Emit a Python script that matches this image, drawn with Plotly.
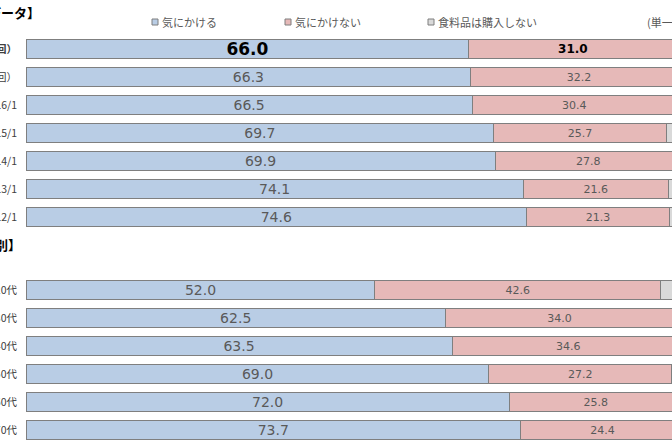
import plotly.graph_objects as go
from plotly.subplots import make_subplots

# ---- data ----
series_names = ["気にかける", "気にかけない", "食料品は購入しない"]
series_colors = ["#b9cde5", "#e6b9b8", "#d9d9d9"]

time_labels = ["2017/1（今回）", "2016/7（前回）", "2016/1", "2015/1", "2014/1", "2013/1", "2012/1"]
time_care = [66.0, 66.3, 66.5, 69.7, 69.9, 74.1, 74.6]
time_nocare = [31.0, 32.2, 30.4, 25.7, 27.8, 21.6, 21.3]
time_nobuy = [3.0, 1.5, 3.1, 4.6, 2.3, 4.3, 4.1]

age_labels = ["20代", "30代", "40代", "50代", "60代", "70代"]
age_care = [52.0, 62.5, 63.5, 69.0, 72.0, 73.7]
age_nocare = [42.6, 34.0, 34.6, 27.2, 25.8, 24.4]
age_nobuy = [5.4, 3.5, 1.9, 3.8, 2.2, 1.9]

section_titles = ["【時系列データ】", "【年代別】"]
unit_note = "(単一回答)"

W, H = 672, 446
ML = 26
PW = W - ML


def px_x(p):
    return (p - ML) / PW


def px_y(p):
    return 1 - p / H


fig = make_subplots(rows=2, cols=1, shared_xaxes=False, vertical_spacing=0.05)

LINE = dict(color="#7f7f7f", width=1)
GRAY = "#595959"


def add_group(labels, care, nocare, nobuy, row, bold_first):
    care_txt = []
    nocare_txt = []
    care_size = []
    nocare_size = []
    care_col = []
    nocare_col = []
    tick_txt = []
    for i in range(len(labels)):
        if bold_first and i == 0:
            care_txt.append(f"<b>{care[i]:.1f}</b>")
            nocare_txt.append(f"<b>{nocare[i]:.1f}</b>")
            care_size.append(17)
            nocare_size.append(12)
            care_col.append("#000000")
            nocare_col.append("#000000")
            tick_txt.append(f"<b>{labels[i]}</b>")
        else:
            care_txt.append(f"{care[i]:.1f}")
            nocare_txt.append(f"{nocare[i]:.1f}")
            care_size.append(14)
            nocare_size.append(11)
            care_col.append(GRAY)
            nocare_col.append(GRAY)
            tick_txt.append(labels[i])
    fig.add_trace(go.Bar(y=labels, x=care, orientation="h", name=series_names[0],
                         marker=dict(color=series_colors[0], line=LINE),
                         text=care_txt, textposition="inside", insidetextanchor="middle",
                         constraintext="none",
                         textfont=dict(size=care_size, color=care_col, family="DejaVu Sans"),
                         showlegend=False), row=row, col=1)
    fig.add_trace(go.Bar(y=labels, x=nocare, orientation="h", name=series_names[1],
                         marker=dict(color=series_colors[1], line=LINE),
                         text=nocare_txt, textposition="inside", insidetextanchor="middle",
                         constraintext="none",
                         textfont=dict(size=nocare_size, color=nocare_col, family="DejaVu Sans"),
                         showlegend=False), row=row, col=1)
    fig.add_trace(go.Bar(y=labels, x=nobuy, orientation="h", name=series_names[2],
                         marker=dict(color=series_colors[2], line=LINE),
                         textposition="none", showlegend=False), row=row, col=1)
    return tick_txt


t1 = add_group(time_labels, time_care, time_nocare, time_nobuy, 1, True)
t2 = add_group(age_labels, age_care, age_nocare, age_nobuy, 2, False)

xr = [0, PW / 6.71]
axis_common = dict(showgrid=False, zeroline=False, showline=False, showticklabels=False,
                   range=xr, domain=[0, 1], fixedrange=True)
fig.update_xaxes(**axis_common)
yfont = dict(size=10.5, color="#404040", family="Noto Sans CJK JP")
fig.update_layout(
    yaxis=dict(domain=[px_y(231), px_y(35)], autorange="reversed", tickmode="array",
               tickvals=time_labels, ticktext=t1, automargin=False, ticks="",
               ticklabelstandoff=8, tickfont=yfont, showgrid=False, zeroline=False,
               fixedrange=True),
    yaxis2=dict(domain=[px_y(444), px_y(276)], autorange="reversed", tickmode="array",
                tickvals=age_labels, ticktext=t2, automargin=False, ticks="",
                ticklabelstandoff=8, tickfont=yfont, showgrid=False, zeroline=False,
                fixedrange=True),
)

fig.update_layout(
    width=W, height=H, barmode="stack", bargap=0.32,
    margin=dict(l=ML, r=0, t=0, b=0),
    plot_bgcolor="white", paper_bgcolor="white",
    font=dict(family="Noto Sans CJK JP"),
    showlegend=False,
)

# section titles
fig.add_annotation(x=px_x(42), y=px_y(13), xref="paper", yref="paper", text=f"<b>{section_titles[0]}</b>",
                   xanchor="right", yanchor="middle", showarrow=False,
                   font=dict(size=13, color="#000000", family="Noto Sans CJK JP"))
fig.add_annotation(x=px_x(23), y=px_y(244), xref="paper", yref="paper", text=f"<b>{section_titles[1]}</b>",
                   xanchor="right", yanchor="middle", showarrow=False,
                   font=dict(size=13, color="#000000", family="Noto Sans CJK JP"))

# custom legend
leg_pos = [152, 285, 428]
for name, col, lx in zip(series_names, series_colors, leg_pos):
    fig.add_shape(type="rect", xref="paper", yref="paper",
                  x0=px_x(lx), x1=px_x(lx + 6), y0=px_y(25), y1=px_y(19),
                  fillcolor=col, line=dict(color="#7f7f7f", width=1))
    fig.add_annotation(x=px_x(lx + 8), y=px_y(22), xref="paper", yref="paper", text=name,
                       xanchor="left", yanchor="middle", showarrow=False,
                       font=dict(size=11, color=GRAY, family="Noto Sans CJK JP"))

fig.add_annotation(x=px_x(645), y=px_y(22), xref="paper", yref="paper", text=unit_note,
                   xanchor="left", yanchor="middle", showarrow=False,
                   font=dict(size=11, color=GRAY, family="Noto Sans CJK JP"))

fig.write_html("out.html", config={"displayModeBar": False, "staticPlot": True},
               post_script="document.body.style.margin='0';document.body.style.overflow='hidden';")
